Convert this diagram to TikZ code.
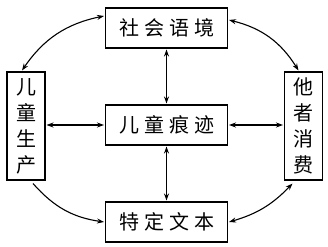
\documentclass[tikz,border=0pt]{standalone}
\usepackage{fontspec}
\newfontfamily\cjk{Noto Sans CJK SC}
\usetikzlibrary{arrows.meta}
\begin{document}
\begin{tikzpicture}[x=1pt,y=1pt,
  box/.style={draw,line width=1.3pt,inner sep=0pt,outer sep=1.5pt,
    font=\cjk\fontsize{20}{26}\selectfont,align=center},
  hbox/.style={box,minimum width=122pt,minimum height=40pt},
  vbox/.style={box,minimum width=38pt,minimum height=108pt},
  conn/.style={line width=1.1pt,{Stealth[length=7pt,width=5pt]}-{Stealth[length=7pt,width=5pt]}},
  oneway/.style={line width=1.1pt,-{Stealth[length=7pt,width=5pt]}}]
\useasboundingbox (0,0) rectangle (328,246);
\node[hbox] (top) at (166.5,218) {社\kern5pt会\kern5pt语\kern5pt境};
\node[hbox] (mid) at (166.5,121) {儿\kern5pt童\kern5pt痕\kern5pt迹};
\node[hbox] (bot) at (166.5,24) {特\kern5pt定\kern5pt文\kern5pt本};
\node[vbox] (lft) at (26,120) {儿\\童\\生\\产};
\node[vbox] (rgt) at (303.5,120) {他\\者\\消\\费};
\draw[conn] ([xshift=-4pt]lft.north) to[bend left=22] ([yshift=12pt]top.west);
\draw[conn] ([yshift=8pt]top.east) to[bend left=22] ([xshift=-5pt]rgt.north);
\draw[oneway] ([xshift=7pt,yshift=-2pt]lft.south) to[bend right=20] (bot.west);
\draw[conn] ([xshift=-11pt,yshift=-2pt]rgt.south) to[bend left=15] (bot.east);
\draw[conn] (top) -- (mid);
\draw[conn] (mid) -- (bot);
\draw[conn] (lft.east |- mid.west) -- (mid.west);
\draw[conn] (mid.east) -- (rgt.west |- mid.east);
\end{tikzpicture}
\end{document}
